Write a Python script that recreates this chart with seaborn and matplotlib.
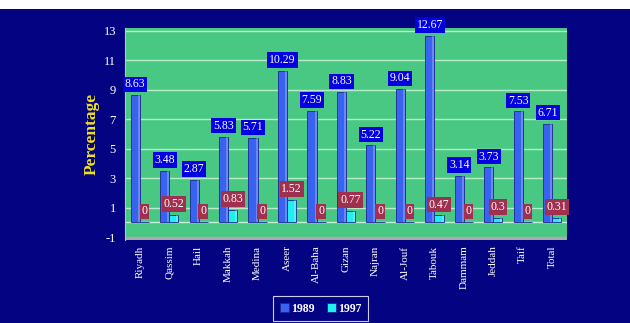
import matplotlib
matplotlib.use("Agg")
import matplotlib.pyplot as plt
import seaborn as sns
import pandas as pd
import numpy as np
from matplotlib.patches import Rectangle

regions = ["Riyadh", "Qassim", "Hail", "Makkah", "Medina", "Aseer", "Al-Baha",
           "Gizan", "Najran", "Al-Jouf", "Tabouk", "Dammam", "Jeddah", "Taif", "Total"]
values_1989 = [8.63, 3.48, 2.87, 5.83, 5.71, 10.29, 7.59, 8.83, 5.22, 9.04, 12.67, 3.14, 3.73, 7.53, 6.71]
values_1997 = [0, 0.52, 0, 0.83, 0, 1.52, 0, 0.77, 0, 0, 0.47, 0, 0.3, 0, 0.31]
years = ["1989", "1997"]
y_ticks = [-1, 1, 3, 5, 7, 9, 11, 13]

df = pd.DataFrame({
    "Region": regions * 2,
    "Year": [years[0]] * len(regions) + [years[1]] * len(regions),
    "Value": values_1989 + values_1997,
})

sns.set_style("white")
plt.rcParams["font.family"] = ["Liberation Serif", "DejaVu Serif"]
plt.rcParams["axes.unicode_minus"] = False

bg = "#040482"
fig = plt.figure(figsize=(6.3, 3.23), dpi=100, facecolor=bg)
# white strip at top
fig.patches.append(Rectangle((0, 1 - 9 / 323), 1, 9 / 323, transform=fig.transFigure,
                             facecolor="white", edgecolor="none", zorder=0))

W, H = 630, 323
left, right, top, bottom = 125, 567, 28, 240
ax = fig.add_axes([left / W, 1 - bottom / H, (right - left) / W, (bottom - top) / H])
ax.set_facecolor("#48c882")

palette = {"1989": "#3a62f0", "1997": "#20eef0"}
sns.barplot(data=df, x="Region", y="Value", hue="Year", palette=palette,
            width=0.62, ax=ax, edgecolor="#1a2a90", linewidth=0.6, saturation=1,
            legend=True)

ax.set_ylim(-1.2, 13.2)
ax.set_xlim(-0.5, len(regions) - 0.5)
ax.set_yticks(y_ticks)
for yv in y_ticks[1:]:
    ax.axhline(yv, color="#b8ecc8", lw=1.0, zorder=0)
ax.axhline(0, color="#c8f0d8", lw=1.0, zorder=0.5)
ax.axhline(-1.05, color="#aaaaaa", lw=2.5, zorder=0.5)

# light right-side face on each bar for a slight 3D look
for cont in ax.containers:
    for bar in cont:
        h = bar.get_height()
        if h > 0:
            ax.add_patch(Rectangle((bar.get_x() + bar.get_width() * 0.78, 0),
                                   bar.get_width() * 0.22, h,
                                   facecolor="white", alpha=0.25, edgecolor="none", zorder=3))

for s in ["top", "right"]:
    ax.spines[s].set_visible(False)
ax.spines["bottom"].set_visible(False)
ax.spines["left"].set_color("#c0c0c0")
ax.tick_params(axis="y", colors="white", labelsize=9, length=3, color="white")
ax.tick_params(axis="x", colors="white", labelsize=8, length=0, rotation=90, pad=4)
ax.set_xlabel("")
ax.set_ylabel("Percentage", color="#f0e020", fontsize=12.5, fontweight="bold", labelpad=3)

# value labels
for cont, color, year in zip(ax.containers, ["#0000e0", "#a03050"], years):
    for bar in cont:
        h = bar.get_height()
        x = bar.get_x() + bar.get_width() / 2
        txt = f"{h:g}"
        ax.annotate(txt, (x, h), xytext=(0, 3.5), textcoords="offset points",
                    ha="center", va="bottom", color="white", fontsize=8.5,
                    bbox=dict(boxstyle="square,pad=0.15", fc=color, ec="none"),
                    zorder=5)

leg = ax.legend(loc="upper center", bbox_to_anchor=(0.443, -0.255), ncol=2,
                frameon=True, fontsize=8.5, handlelength=0.8, handleheight=0.8,
                handletextpad=0.2, columnspacing=1.0, borderpad=0.25)
leg.get_frame().set_facecolor(bg)
leg.get_frame().set_edgecolor("white")
leg.get_frame().set_linewidth(0.8)
leg.get_frame().set_boxstyle("square")
for t in leg.get_texts():
    t.set_color("white")
    t.set_fontweight("bold")

fig.savefig("out.png", dpi=100, facecolor=bg)
